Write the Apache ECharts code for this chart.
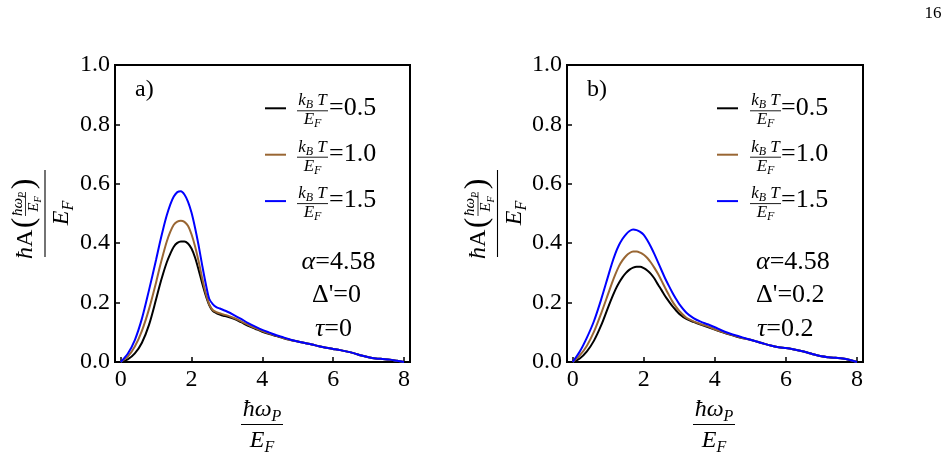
<!DOCTYPE html>
<html><head><meta charset="utf-8">
<script src="https://cdn.jsdelivr.net/npm/echarts@6/dist/echarts.min.js"></script>
<style>html,body{margin:0;padding:0;background:#fff}#c{width:950px;height:459px}</style>
</head><body><div id="c"></div>
<script>
// ---------- data ----------
const xValues = [0,0.2,0.4,0.6,0.8,1.0,1.1,1.2,1.3,1.4,1.5,1.6,1.7,1.8,1.9,2.0,2.1,2.2,2.3,2.4,2.5,2.6,2.7,2.8,2.9,3.0,3.2,3.4,3.6,3.8,4.0,4.2,4.4,4.6,4.8,5.0,5.2,5.4,5.6,5.8,6.0,6.2,6.4,6.6,6.8,7.0,7.2,7.4,7.6,7.8,8.0];
// panel a)  Delta'=0, tau=0
const aBlack = [0,0.009,0.029,0.065,0.125,0.211,0.257,0.298,0.335,0.364,0.388,0.401,0.406,0.406,0.399,0.382,0.352,0.311,0.266,0.225,0.192,0.172,0.165,0.160,0.156,0.153,0.145,0.134,0.122,0.112,0.102,0.094,0.087,0.080,0.074,0.069,0.064,0.059,0.053,0.048,0.044,0.040,0.035,0.029,0.022,0.016,0.012,0.010,0.008,0.004,0];
const aBrown = [0,0.018,0.052,0.105,0.178,0.268,0.317,0.363,0.405,0.438,0.462,0.473,0.476,0.472,0.459,0.430,0.390,0.340,0.283,0.232,0.194,0.175,0.168,0.164,0.160,0.157,0.148,0.137,0.125,0.114,0.104,0.096,0.088,0.081,0.074,0.069,0.064,0.059,0.053,0.048,0.044,0.040,0.035,0.029,0.022,0.016,0.012,0.010,0.008,0.004,0];
const aBlue  = [0,0.028,0.074,0.146,0.242,0.344,0.398,0.448,0.493,0.530,0.557,0.572,0.575,0.564,0.540,0.503,0.452,0.393,0.327,0.265,0.213,0.195,0.185,0.180,0.175,0.170,0.158,0.145,0.131,0.119,0.108,0.099,0.090,0.083,0.075,0.069,0.064,0.059,0.053,0.048,0.044,0.040,0.035,0.029,0.022,0.016,0.012,0.010,0.008,0.004,0];
// panel b)  Delta'=0.2, tau=0.2
const bBlack = [0,0.012,0.036,0.072,0.123,0.185,0.215,0.243,0.266,0.285,0.300,0.311,0.318,0.321,0.321,0.316,0.308,0.297,0.281,0.261,0.242,0.222,0.205,0.189,0.175,0.162,0.145,0.135,0.126,0.118,0.109,0.101,0.093,0.086,0.080,0.075,0.068,0.061,0.055,0.050,0.047,0.043,0.038,0.032,0.025,0.019,0.016,0.014,0.012,0.007,0];
const bBrown = [0,0.022,0.055,0.102,0.163,0.230,0.264,0.295,0.322,0.342,0.357,0.367,0.372,0.372,0.368,0.361,0.350,0.335,0.317,0.297,0.274,0.250,0.227,0.205,0.187,0.172,0.149,0.137,0.128,0.120,0.110,0.102,0.094,0.087,0.080,0.075,0.068,0.061,0.055,0.050,0.047,0.043,0.038,0.032,0.025,0.019,0.016,0.014,0.012,0.007,0];
const bBlue  = [0,0.035,0.082,0.138,0.210,0.290,0.330,0.365,0.393,0.414,0.430,0.441,0.446,0.444,0.438,0.428,0.410,0.388,0.363,0.336,0.309,0.282,0.258,0.235,0.214,0.195,0.166,0.148,0.136,0.127,0.117,0.106,0.097,0.089,0.082,0.075,0.068,0.061,0.055,0.050,0.047,0.043,0.038,0.032,0.025,0.019,0.016,0.014,0.012,0.007,0];

const xTicks = [0,2,4,6,8];
const yTicks = [0,0.2,0.4,0.6,0.8,1.0];
const tempValues = ['=0.5','=1.0','=1.5'];
const panelTags = ['a)','b)'];
const paramsA = ['α=4.58', "Δ'=0", 'τ=0'];
const paramsB = ['α=4.58', "Δ'=0.2", 'τ=0.2'];
const pageNumber = '16';

// ---------- style ----------
const SERIF = "'Liberation Serif', 'Times New Roman', serif";
const COLORS = ['#000000', '#996633', '#0000ff'];
const toPairs = ys => xValues.map((x, i) => [x, ys[i]]);

function rich(F) {
  const LH = Math.round(F * 1.25);
  return {
    i: {fontFamily: SERIF, fontStyle: 'italic', fontSize: F, lineHeight: LH, fill: '#000'},
    r: {fontFamily: SERIF, fontStyle: 'normal', fontSize: F, lineHeight: LH, fill: '#000'},
    s: {fontFamily: SERIF, fontStyle: 'italic', fontSize: Math.round(F * 0.68), lineHeight: Math.round(F * 0.6), verticalAlign: 'bottom', fill: '#000'}
  };
}
function T(x, y, text, F, align, extra) {
  return Object.assign({
    type: 'text', x: x, y: y, silent: true,
    style: {text: text, rich: rich(F), fontFamily: SERIF, fontSize: F, fill: '#000',
            textAlign: align || 'center', textVerticalAlign: 'middle'}
  }, extra || {});
}
function L(x1, y1, x2, y2, color, w) {
  return {type: 'line', silent: true, shape: {x1: x1, y1: y1, x2: x2, y2: y2},
          style: {stroke: color || '#000', lineWidth: w || 1}};
}
function paramRich(s) {
  return s.replace('α', '{i|α}{r|').replace('τ', '{i|τ}{r|').replace(/^Δ/, '{r|Δ') + '}';
}

const grids = [
  {left: 115, top: 65, width: 295, height: 297},
  {left: 567, top: 65, width: 296, height: 297}
];

const graphics = [];
graphics.push(T(933, 14, '{r|' + pageNumber + '}', 17, 'center'));

const legendCfg = [
  {lineX1: 265, lineX2: 286, fracC: 312.5, barX1: 297, barX2: 328, eqX: 329},
  {lineX1: 717, lineX2: 738, fracC: 765.5, barX1: 750, barX2: 781, eqX: 781}
];
const tagPos = [[135, 90], [587, 90]];
const xTitleC = [262, 714];
const yTitleX = [45, 497.5];

for (let p = 0; p < 2; p++) {
  const lg = legendCfg[p];
  for (let k = 0; k < 3; k++) {
    const y = 108.3 + 46.4 * k;
    graphics.push(L(lg.lineX1, y, lg.lineX2, y, COLORS[k], 2));
    graphics.push(T(lg.fracC, y - 7.5, '{i|k}{s|B}{r| }{i|T}', 17, 'center'));
    graphics.push(L(lg.barX1, y + 2.5, lg.barX2, y + 2.5, '#000', 0.9));
    graphics.push(T(lg.fracC, y + 11.5, '{i|E}{s|F}', 17, 'center'));
    graphics.push(T(lg.eqX, y - 0.5, '{r|' + tempValues[k] + '}', 26, 'left'));
  }
  graphics.push(T(tagPos[p][0], tagPos[p][1], '{r|' + panelTags[p] + '}', 24, 'left'));
  const c = xTitleC[p];
  graphics.push(T(c, 410, '{i|ħω}{s|P}', 24, 'center'));
  graphics.push(L(c - 21, 424.5, c + 21, 424.5, '#000', 1.1));
  graphics.push(T(c, 441, '{i|E}{s|F}', 24, 'center'));
  graphics.push({
    type: 'group', x: yTitleX[p], y: 213, rotation: Math.PI / 2, silent: true,
    children: [
      L(-44, 0, 43, 0, '#000', 1.1),
      T(-46, -19, '{i|ħ}{r|A}', 24, 'left'),
      T(-10, -20, '{r|(}', 32, 'center'),
      T(9, -27, '{i|ħω}{s|P}', 15, 'center'),
      L(-3, -19.5, 21, -19.5, '#000', 0.8),
      T(9, -11, '{i|E}{s|F}', 15, 'center'),
      T(29, -20, '{r|)}', 32, 'center'),
      T(0, 17, '{i|E}{s|F}', 24, 'center')
    ]
  });
}
const annA = [[338.5, 261.7], [336.5, 295], [333.5, 329]];
paramsA.forEach((s, i) => graphics.push(T(annA[i][0], annA[i][1], paramRich(s), 26, 'center')));
const annB = [[756, 261.7], [756, 295], [757, 329]];
paramsB.forEach((s, i) => graphics.push(T(annB[i][0], annB[i][1], paramRich(s), 26, 'left')));

const xAxes = [0, 1].map(g => ({
  type: 'value', gridIndex: g, min: -0.16, max: 8.17,
  axisLine: {show: true, onZero: false, lineStyle: {color: '#000', width: 2}},
  axisTick: {show: true, inside: true, length: 5, customValues: xTicks, lineStyle: {color: '#000', width: 1.5}},
  axisLabel: {customValues: xTicks, fontFamily: SERIF, fontSize: 24, color: '#000', margin: 6},
  splitLine: {show: false}
}));
const yAxes = [0, 1].map(g => ({
  type: 'value', gridIndex: g, min: 0, max: 1, interval: 0.2,
  axisLine: {show: true, onZero: false, lineStyle: {color: '#000', width: 2}},
  axisTick: {show: true, inside: true, length: 5, lineStyle: {color: '#000', width: 1.5}},
  axisLabel: {fontFamily: SERIF, fontSize: 24, color: '#000', margin: 5,
              formatter: v => v.toFixed(1)},
  splitLine: {show: false}
}));

const names = ['kBT/EF=0.5', 'kBT/EF=1.0', 'kBT/EF=1.5'];
const panelData = [[aBlack, aBrown, aBlue], [bBlack, bBrown, bBlue]];
const series = [];
panelData.forEach((set, g) => set.forEach((ys, k) => series.push({
  type: 'line', name: names[k], xAxisIndex: g, yAxisIndex: g,
  data: toPairs(ys), showSymbol: false, smooth: 0.3, z: 3 + k,
  lineStyle: {color: COLORS[k], width: 2}, itemStyle: {color: COLORS[k]}
})));

const chart = echarts.init(document.getElementById('c'), null, {renderer: 'canvas'});
chart.setOption({
  backgroundColor: '#fff',
  animation: false,
  grid: grids.map(g => Object.assign({show: true, borderColor: '#000', borderWidth: 2, backgroundColor: 'transparent'}, g)),
  xAxis: xAxes,
  yAxis: yAxes,
  series: series,
  graphic: graphics
});
</script>
</body></html>
